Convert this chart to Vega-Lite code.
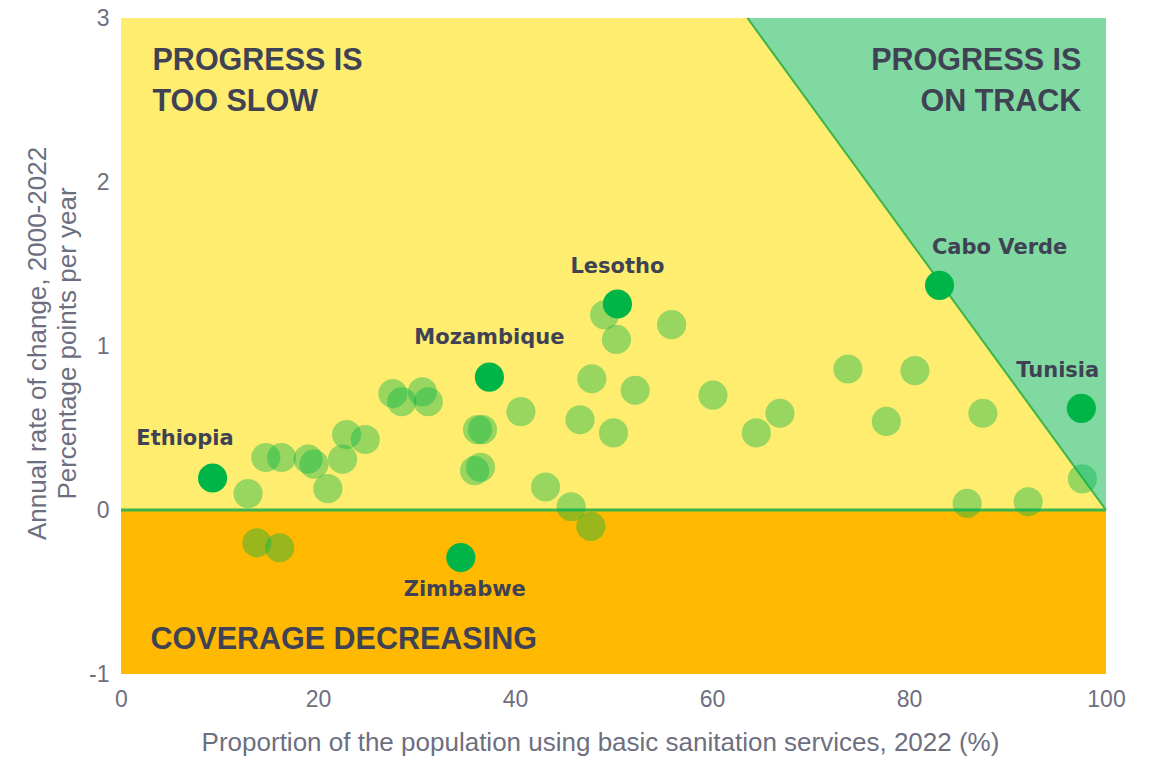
{
  "$schema": "https://vega.github.io/schema/vega-lite/v6.json",
  "width": 985,
  "height": 656,
  "autosize": "none",
  "padding": {"left": 121, "top": 18, "right": 47, "bottom": 83},
  "background": "white",
  "config": {
    "view": {"stroke": null},
    "axis": {"grid": false, "domain": false, "ticks": false, "labelFont": "Liberation Sans", "labelColor": "#6d6f80", "labelFontSize": 23, "titleFont": "Liberation Sans", "titleColor": "#6d6f80", "titleFontSize": 26, "titleFontWeight": "normal"}
  },
  "datasets": {
    "regions": [
      {"region": "too slow", "x1": 0, "x2": 100, "y1": 0, "y2": 3},
      {"region": "decreasing", "x1": 0, "x2": 100, "y1": -1, "y2": 0}
    ],
    "ontrack": [
      {"x": 63.6, "y": 3, "top": 3},
      {"x": 100, "y": 0, "top": 3}
    ],
    "others": [
      {"x": 12.9, "y": 0.10}, {"x": 14.7, "y": 0.32}, {"x": 16.3, "y": 0.32}, {"x": 19.0, "y": 0.31}, {"x": 19.6, "y": 0.28},
      {"x": 21.0, "y": 0.13}, {"x": 22.5, "y": 0.31}, {"x": 22.9, "y": 0.46}, {"x": 24.8, "y": 0.43}, {"x": 13.8, "y": -0.20},
      {"x": 16.1, "y": -0.23}, {"x": 27.6, "y": 0.71}, {"x": 28.5, "y": 0.66}, {"x": 30.6, "y": 0.72}, {"x": 31.2, "y": 0.66},
      {"x": 36.2, "y": 0.49}, {"x": 36.7, "y": 0.49}, {"x": 35.9, "y": 0.24}, {"x": 36.5, "y": 0.26}, {"x": 49.1, "y": 1.19},
      {"x": 50.3, "y": 1.04}, {"x": 55.9, "y": 1.13}, {"x": 47.8, "y": 0.80}, {"x": 52.2, "y": 0.73}, {"x": 46.6, "y": 0.55},
      {"x": 50.0, "y": 0.47}, {"x": 40.6, "y": 0.60}, {"x": 60.1, "y": 0.70}, {"x": 64.5, "y": 0.47}, {"x": 66.9, "y": 0.59},
      {"x": 43.1, "y": 0.14}, {"x": 45.7, "y": 0.02}, {"x": 47.7, "y": -0.10}, {"x": 73.8, "y": 0.86}, {"x": 80.6, "y": 0.85},
      {"x": 77.7, "y": 0.54}, {"x": 87.5, "y": 0.59}, {"x": 85.9, "y": 0.04}, {"x": 92.1, "y": 0.05}, {"x": 97.6, "y": 0.19}
    ],
    "highlighted": [
      {"country": "Ethiopia", "x": 9.3, "y": 0.195, "lx": 6.5, "ly": 0.43},
      {"country": "Mozambique", "x": 37.4, "y": 0.81, "lx": 37.4, "ly": 1.05},
      {"country": "Lesotho", "x": 50.4, "y": 1.256, "lx": 50.4, "ly": 1.48},
      {"country": "Cabo Verde", "x": 83.1, "y": 1.37, "lx": 89.2, "ly": 1.60},
      {"country": "Tunisia", "x": 97.5, "y": 0.62, "lx": 95.1, "ly": 0.85},
      {"country": "Zimbabwe", "x": 34.5, "y": -0.29, "lx": 34.9, "ly": -0.49}
    ],
    "quadrants": [
      {"text": "PROGRESS IS", "x": 3.2, "y": 2.74, "side": "left"},
      {"text": "TOO SLOW", "x": 3.2, "y": 2.49, "side": "left"},
      {"text": "PROGRESS IS", "x": 97.5, "y": 2.74, "side": "right"},
      {"text": "ON TRACK", "x": 97.5, "y": 2.49, "side": "right"},
      {"text": "COVERAGE DECREASING", "x": 3.0, "y": -0.79, "side": "left"}
    ]
  },
  "layer": [
    {
      "data": {"name": "regions"},
      "mark": {"type": "rect"},
      "encoding": {
        "x": {"field": "x1", "type": "quantitative", "scale": {"domain": [0, 100], "nice": false}, "axis": {"values": [0, 20, 40, 60, 80, 100], "labelFlush": false, "labelPadding": 14, "title": "Proportion of the population using basic sanitation services, 2022 (%)", "titleBaseline": "middle", "titleAlign": "center", "titleX": 479, "titleY": 68}},
        "x2": {"field": "x2"},
        "y": {"field": "y1", "type": "quantitative", "scale": {"domain": [-1, 3], "nice": false}, "axis": {"values": [-1, 0, 1, 2, 3], "labelExpr": "'' + datum.value", "labelFlush": false, "labelPadding": 12, "title": ["Annual rate of change, 2000-2022", "Percentage points per year"], "titleLineHeight": 30, "titleBaseline": "middle", "titleAlign": "center", "titleAngle": -90, "titleX": -84, "titleY": 325}},
        "y2": {"field": "y2"},
        "color": {"field": "region", "type": "nominal", "scale": {"domain": ["too slow", "decreasing"], "range": ["#ffed6f", "#ffb900"]}, "legend": null}
      }
    },
    {
      "data": {"name": "ontrack"},
      "mark": {"type": "area", "color": "#80d9a0", "opacity": 1},
      "encoding": {
        "x": {"field": "x", "type": "quantitative"},
        "y": {"field": "y", "type": "quantitative"},
        "y2": {"field": "top"}
      }
    },
    {
      "data": {"name": "ontrack"},
      "mark": {"type": "line", "color": "#3db54a", "strokeWidth": 2},
      "encoding": {
        "x": {"field": "x", "type": "quantitative"},
        "y": {"field": "y", "type": "quantitative"}
      }
    },
    {
      "data": {"values": [{"y": 0}]},
      "mark": {"type": "rule", "color": "#3db54a", "strokeWidth": 3},
      "encoding": {"y": {"field": "y", "type": "quantitative"}}
    },
    {
      "data": {"name": "others"},
      "mark": {"type": "circle", "size": 850, "color": "#00b548", "opacity": 0.4},
      "encoding": {
        "x": {"field": "x", "type": "quantitative"},
        "y": {"field": "y", "type": "quantitative"}
      }
    },
    {
      "data": {"name": "highlighted"},
      "mark": {"type": "circle", "size": 850, "color": "#00b548", "opacity": 1},
      "encoding": {
        "x": {"field": "x", "type": "quantitative"},
        "y": {"field": "y", "type": "quantitative"}
      }
    },
    {
      "data": {"name": "highlighted"},
      "mark": {"type": "text", "font": "DejaVu Sans", "fontWeight": "bold", "fontSize": 21, "color": "#3f4254", "baseline": "middle", "align": "center"},
      "encoding": {
        "x": {"field": "lx", "type": "quantitative"},
        "y": {"field": "ly", "type": "quantitative"},
        "text": {"field": "country"}
      }
    },
    {
      "data": {"name": "quadrants"},
      "transform": [{"filter": "datum.side == 'left'"}],
      "mark": {"type": "text", "font": "Liberation Sans", "fontWeight": "bold", "fontSize": 30.5, "color": "#3f4254", "baseline": "middle", "align": "left"},
      "encoding": {
        "x": {"field": "x", "type": "quantitative"},
        "y": {"field": "y", "type": "quantitative"},
        "text": {"field": "text"}
      }
    },
    {
      "data": {"name": "quadrants"},
      "transform": [{"filter": "datum.side == 'right'"}],
      "mark": {"type": "text", "font": "Liberation Sans", "fontWeight": "bold", "fontSize": 30.5, "color": "#3f4254", "baseline": "middle", "align": "right"},
      "encoding": {
        "x": {"field": "x", "type": "quantitative"},
        "y": {"field": "y", "type": "quantitative"},
        "text": {"field": "text"}
      }
    }
  ]
}
